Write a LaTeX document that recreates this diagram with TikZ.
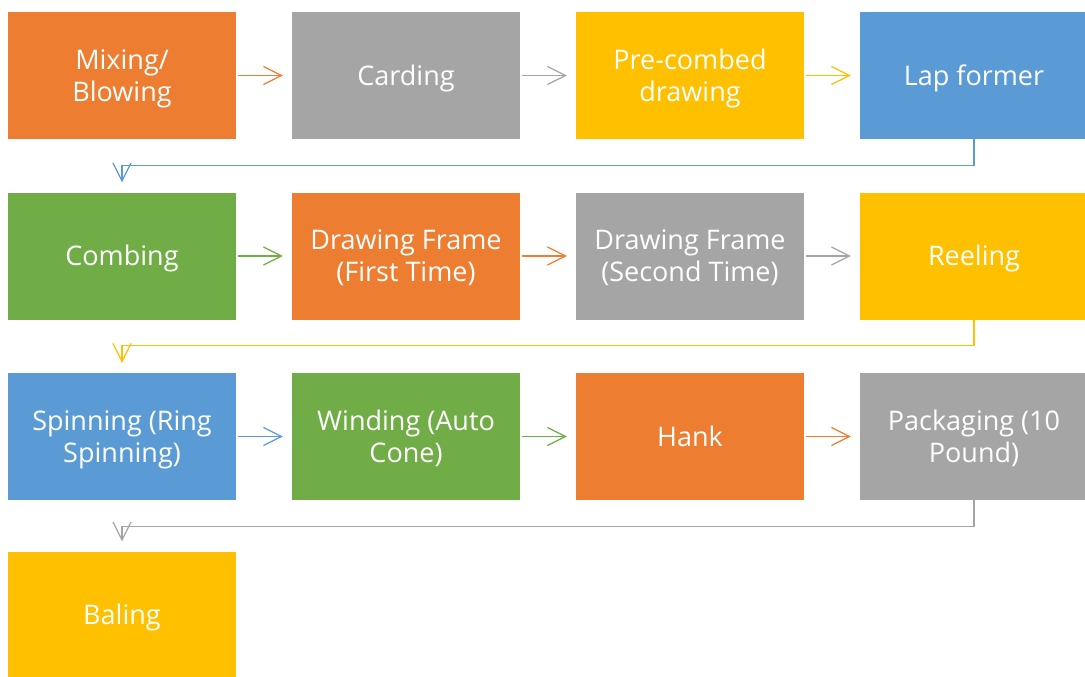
\documentclass[tikz,border=0pt]{standalone}
\usepackage{fontspec}
\setmainfont{Open Sans}
\usetikzlibrary{arrows.meta}
\definecolor{corange}{HTML}{ED7D31}
\definecolor{cgray}{HTML}{A5A5A5}
\definecolor{cgold}{HTML}{FFC000}
\definecolor{cblue}{HTML}{5B9BD5}
\definecolor{cgreen}{HTML}{70AD47}
\newcommand{\boxtext}[1]{\raisebox{-3.5pt}[\height][\depth]{\begin{tabular}{@{}c@{}}#1\end{tabular}}}
\tikzset{
  box/.style={fill=#1, draw=none, minimum width=228pt, minimum height=127pt, inner sep=0pt,
    text=white, font=\fontsize{27}{32}\selectfont},
  link/.style={draw=#1, line width=1.2pt, -{Straight Barb[length=18pt,width=18pt,line width=1.2pt]}},
  hlink/.style={link=#1, shorten <=2pt, shorten >=9pt},
  vlink/.style={link=#1, shorten >=10pt, rounded corners=0pt}
}
\begin{document}
\begin{tikzpicture}[x=1pt,y=-1pt]
\useasboundingbox (0,0) rectangle (1085,677);
\clip (0,0) rectangle (1085,677);
% row 1
\node[box=corange] (a1) at (122,75.5) {\boxtext{Mixing/\\Blowing}};
\node[box=cgray]   (a2) at (406,75.5) {\boxtext{Carding}};
\node[box=cgold]   (a3) at (690,75.5) {\boxtext{Pre-combed\\drawing}};
\node[box=cblue]   (a4) at (974,75.5) {\boxtext{Lap former}};
% row 2
\node[box=cgreen]  (b1) at (122,256) {\boxtext{Combing}};
\node[box=corange] (b2) at (406,256) {\boxtext{Drawing Frame\\(First Time)}};
\node[box=cgray]   (b3) at (690,256) {\boxtext{Drawing Frame\\(Second Time)}};
\node[box=cgold]   (b4) at (974,256) {\boxtext{Reeling}};
% row 3
\node[box=cblue]   (c1) at (122,436.5) {\boxtext{Spinning (Ring\\Spinning)}};
\node[box=cgreen]  (c2) at (406,436.5) {\boxtext{Winding (Auto\\Cone)}};
\node[box=corange] (c3) at (690,436.5) {\boxtext{Hank}};
\node[box=cgray]   (c4) at (974,436.5) {\boxtext{Packaging (10\\Pound)}};
% row 4
\node[box=cgold]   (d1) at (122,615) {\boxtext{Baling}};
% horizontal arrows
\draw[hlink=corange] (a1) -- (a2);
\draw[hlink=cgray]   (a2) -- (a3);
\draw[hlink=cgold]   (a3) -- (a4);
\draw[hlink=cgreen]  (b1) -- (b2);
\draw[hlink=corange] (b2) -- (b3);
\draw[hlink=cgray]   (b3) -- (b4);
\draw[hlink=cblue]   (c1) -- (c2);
\draw[hlink=cgreen]  (c2) -- (c3);
\draw[hlink=corange] (c3) -- (c4);
% row-to-row connectors
\draw[vlink=cblue] (a4.south) -- ++(0,26) -| (b1.north);
\draw[vlink=cgold] (b4.south) -- ++(0,26) -| (c1.north);
\draw[vlink=cgray] (c4.south) -- ++(0,26) -| (d1.north);
\end{tikzpicture}
\end{document}
